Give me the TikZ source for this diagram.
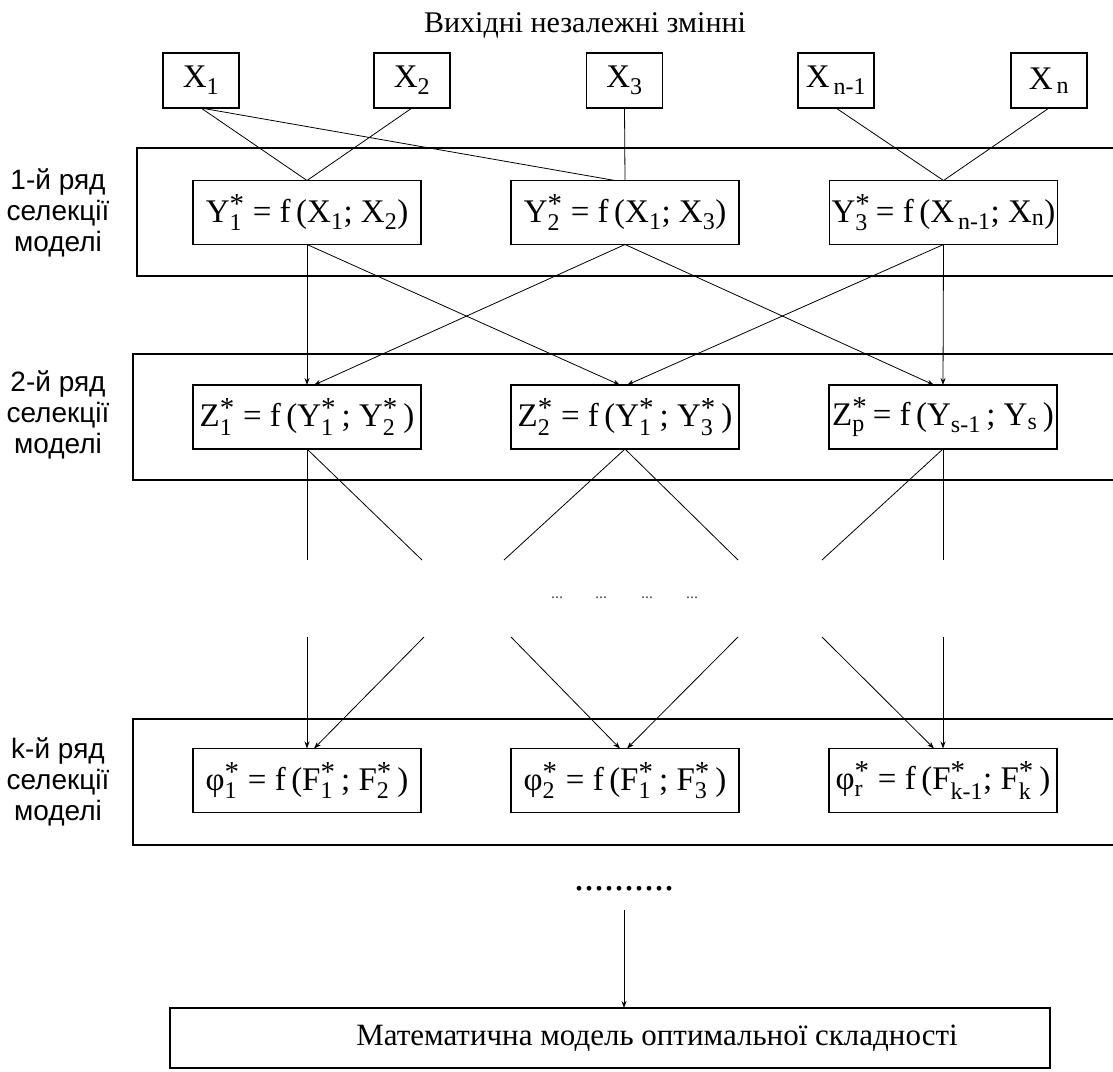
\documentclass[tikz,border=0pt]{standalone}
\usepackage{fontspec}
\setmainfont{Liberation Serif}
\newfontfamily\labfont{Liberation Sans}
\usetikzlibrary{arrows.meta,calc}
\newcommand\scr[1]{\hbox{\fontsize{24}{24}\selectfont #1}}
\newcommand\bigstar{\hbox{\fontsize{29}{29}\selectfont *}}
\begin{document}
\begin{tikzpicture}[x=1pt,y=-1pt,
  every node/.style={inner sep=0pt, outer sep=0pt},
  xbox/.style={draw, line width=1.1pt, minimum width=76pt, minimum height=55pt, font=\fontsize{33}{33}\selectfont},
  funcbox/.style={draw, line width=1.1pt, minimum width=228pt, minimum height=64pt, font=\fontsize{33}{33}\selectfont},
  rowbox/.style={draw, line width=1.1pt, minimum width=1000pt, anchor=north west},
  rowlab/.style={align=center, font=\labfont\fontsize{28}{31}\selectfont},
  conn/.style={line width=0.8pt},
  arr/.style={conn, -{Stealth[length=7pt,width=5pt]}},
  smalldots/.style={font=\fontsize{16}{16}\selectfont, text=black!70},
  ]
\useasboundingbox (0,0) rectangle (1113,1071);

% title
\node[font=\fontsize{30}{30}\selectfont] (title) at (585,25) {Вихідні незалежні змінні};

% row boxes
\node[rowbox, minimum height=128pt] (r1) at (137,148) {};
\node[rowbox, minimum height=126pt] (r2) at (133,354) {};
\node[rowbox, minimum height=126pt] (rk) at (133,719) {};

\node[rowlab] (l1) at (58,213) {1-й ряд\\селекції\\моделі};
\node[rowlab] (l2) at (58,415) {2-й ряд\\селекції\\моделі};
\node[rowlab] (lk) at (58,782) {k-й ряд\\селекції\\моделі};

% inputs
\node[xbox] (x1) at (201,80.5) {X$_{\scr{1}}$};
\node[xbox] (x2) at (412,80.5) {X$_{\scr{2}}$};
\node[xbox] (x3) at (624.5,80.5) {X$_{\scr{3}}$};
\node[xbox] (xn1) at (836,80.5) {X$_{\scr{\,n-1}}$};
\node[xbox] (xn) at (1049,80.5) {X$_{\scr{\,n}}$};

% row 1
\node[funcbox] (y1) at (307,212.5) {Y$^{\bigstar}_{\scr{1}}$ = f\,(X$_{\scr{1}}$; X$_{\scr{2}}$)};
\node[funcbox] (y2) at (625,212.5) {Y$^{\bigstar}_{\scr{2}}$ = f\,(X$_{\scr{1}}$; X$_{\scr{3}}$)};
\node[funcbox] (y3) at (943.5,212.5) {Y$^{\bigstar}_{\scr{3}}$\,= f\,(X$_{\scr{\,n-1}}$; X$_{\scr{n}}$)};

% row 2
\node[funcbox] (z1) at (307,417) {Z$^{\bigstar}_{\scr{1}}$ = f\,(Y$^{\bigstar}_{\scr{1}}$\,; Y$^{\bigstar}_{\scr{2}}$\,)};
\node[funcbox] (z2) at (625,417) {Z$^{\bigstar}_{\scr{2}}$ = f\,(Y$^{\bigstar}_{\scr{1}}$\,; Y$^{\bigstar}_{\scr{3}}$\,)};
\node[funcbox] (z3) at (943,417) {Z$^{\bigstar}_{\scr{p}}$\,= f\,(Y$_{\scr{s-1}}$\,; Y$_{\scr{s}}$\,)};

% row k
\node[funcbox] (p1) at (307,780.5) {φ$^{\bigstar}_{\scr{1}}$ = f\,(F$^{\bigstar}_{\scr{1}}$\,; F$^{\bigstar}_{\scr{2}}$\,)};
\node[funcbox] (p2) at (625,780.5) {φ$^{\bigstar}_{\scr{2}}$ = f\,(F$^{\bigstar}_{\scr{1}}$\,; F$^{\bigstar}_{\scr{3}}$\,)};
\node[funcbox] (p3) at (943,780.5) {φ$^{\bigstar}_{\scr{r}}$ = f\,(F$^{\bigstar}_{\scr{k-1}}$; F$^{\bigstar}_{\scr{k}}$\,)};

% inputs -> row 1
\draw[conn] (x1.south) -- (y1.north);
\draw[conn] (x2.south) -- (y1.north);
\draw[conn] (x1.south) -- ($(y2.north)+(-10,0)$);
\draw[conn] (x3.south) -- (y2.north);
\draw[conn] (xn1.south) -- (y3.north);
\draw[conn] (xn.south) -- (y3.north);

% row 1 -> row 2
\draw[arr] (y1.south) -- (z1.north);
\draw[arr] (y1.south) -- ($(z2.north)+(-5,0)$);
\draw[arr] (y2.south) -- ($(z1.north)+(7,0)$);
\draw[arr] (y2.south) -- ($(z3.north)+(-9,0)$);
\draw[arr] (y3.south) -- ($(z2.north)+(2,0)$);
\draw[arr] (y3.south) -- (z3.north);

% row 2 -> gap
\coordinate (a1) at (307,560);
\coordinate (a2) at (422,560);
\coordinate (a3) at (504,560);
\coordinate (a4) at (738,560);
\coordinate (a5) at (822,560);
\coordinate (a6) at (943,560);
\draw[conn] (z1.south) -- (a1);
\draw[conn] (z1.south) -- (a2);
\draw[conn] (z2.south) -- (a3);
\draw[conn] (z2.south) -- (a4);
\draw[conn] (z3.south) -- (a5);
\draw[conn] (z3.south) -- (a6);

\node[smalldots] (d1) at (557,598) {...};
\node[smalldots] (d2) at (601,598) {...};
\node[smalldots] (d3) at (647,598) {...};
\node[smalldots] (d4) at (692,598) {...};

% gap -> row k
\coordinate (b1) at (307,637);
\coordinate (b2) at (424,637);
\coordinate (b3) at (511,637);
\coordinate (b4) at (738,637);
\coordinate (b5) at (822,637);
\coordinate (b6) at (943,637);
\draw[arr] (b1) -- (p1.north);
\draw[arr] (b2) -- ($(p1.north)+(7,0)$);
\draw[arr] (b3) -- ($(p2.north)+(-5,0)$);
\draw[arr] (b4) -- ($(p2.north)+(2,0)$);
\draw[arr] (b5) -- ($(p3.north)+(-9,0)$);
\draw[arr] (b6) -- (p3.north);

% final
\node[font=\fontsize{40}{40}\selectfont, anchor=base] (dots) at (624,890) {..........};
\coordinate (c1) at (624,910);
\node[draw, line width=1.4pt, minimum width=880pt, minimum height=60pt, font=\fontsize{31}{31}\selectfont] (bot) at (610,1038) {\hspace*{94pt}Математична модель оптимальної складності};
\draw[arr] (c1) -- (c1 |- bot.north);
\end{tikzpicture}
\end{document}
